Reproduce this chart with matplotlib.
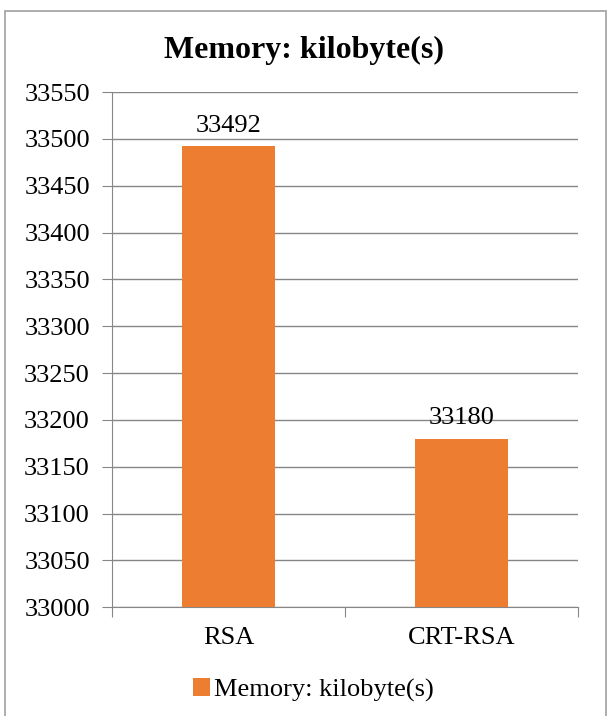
import matplotlib.pyplot as plt
from matplotlib.patches import Rectangle

categories = ['RSA', 'CRT-RSA']
memory_kb = [33492, 33180]
y_ticks = list(range(33000, 33551, 50))

plt.rcParams['font.family'] = ['Liberation Serif', 'DejaVu Serif']

fig = plt.figure(figsize=(6.09, 7.16), dpi=100)
ax = fig.add_axes([0.184, 0.152, 0.765, 0.7193])

grid_col = '#868686'
bar_col = '#ED7D31'

x = range(len(categories))
bars = ax.bar(x, memory_kb, width=0.4, color=bar_col, zorder=3,
              label='Memory: kilobyte(s)')
for b, v in zip(bars, memory_kb):
    ax.annotate(str(v), (b.get_x() + b.get_width() / 2, v),
                xytext=(0, 7), textcoords='offset points',
                ha='center', va='bottom', fontsize=19)

ax.set_xlim(-0.5, 1.5)
ax.set_ylim(33000, 33550)
ax.set_yticks(y_ticks)
ax.set_yticklabels([str(t) for t in y_ticks], fontsize=19)
ax.yaxis.grid(True, color=grid_col, linewidth=1)
ax.set_axisbelow(True)

# category labels centered, ticks at boundaries
ax.set_xticks([-0.5, 0.5, 1.5])
ax.set_xticklabels([])
ax.set_xticks(list(x), minor=True)
ax.set_xticklabels(categories, minor=True, fontsize=19)
ax.tick_params(axis='x', which='minor', length=0, pad=14)
ax.tick_params(axis='x', which='major', length=7, color=grid_col)
ax.tick_params(axis='y', length=7, color=grid_col, pad=9)

for s in ['top', 'right']:
    ax.spines[s].set_visible(False)
for s in ['left', 'bottom']:
    ax.spines[s].set_color(grid_col)

fig.text(0.5, 0.93, 'Memory: kilobyte(s)', ha='center', va='center',
         fontsize=23, fontweight='bold')

fig.legend(loc='center', bbox_to_anchor=(0.515, 0.036), frameon=False,
           fontsize=19, handlelength=0.65, handleheight=0.65, handletextpad=0.15)

# outer chart border
fig.patches.append(Rectangle((5 / 609, -0.01), 601 / 609, 1 - 11 / 716 + 0.01,
                             transform=fig.transFigure, fill=False,
                             edgecolor='#a0a0a0', linewidth=1.2))

plt.savefig('out.png', dpi=100)
